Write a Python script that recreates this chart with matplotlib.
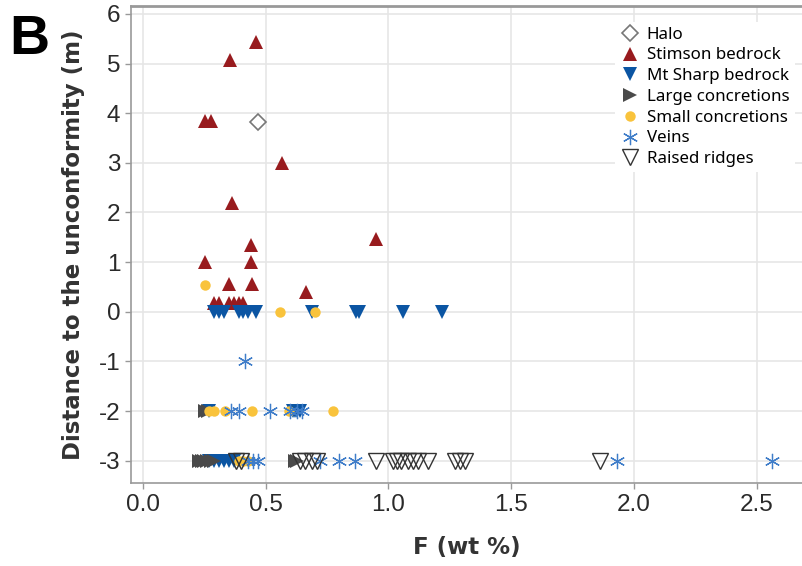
import matplotlib
matplotlib.use("Agg")
import matplotlib.pyplot as plt

plt.rcParams["axes.unicode_minus"] = False

# Datos (F en wt %, distancia en m)
halo_x = [0.47]
halo_y = [3.82]

stimson_x = [0.46, 0.355, 0.255, 0.28, 0.565, 0.365, 0.95, 0.44, 0.255, 0.44,
             0.35, 0.445, 0.665, 0.29, 0.31, 0.35, 0.37, 0.39, 0.41]
stimson_y = [5.43, 5.07, 3.85, 3.85, 3.0, 2.2, 1.46, 1.35, 1.0, 1.0,
             0.56, 0.56, 0.4, 0.18, 0.18, 0.18, 0.18, 0.18, 0.18]

mtsharp_x = [0.29, 0.31, 0.33, 0.39, 0.41, 0.43, 0.46, 0.69, 0.87, 0.88, 1.06, 1.22,
             0.27, 0.61, 0.62, 0.63, 0.64,
             0.27, 0.29, 0.31, 0.33, 0.35, 0.37]
mtsharp_y = [0, 0, 0, 0, 0, 0, 0, 0, 0, 0, 0, 0,
             -2, -2, -2, -2, -2,
             -3, -3, -3, -3, -3, -3]

large_x = [0.255, 0.265, 0.23, 0.24, 0.25, 0.26, 0.28, 0.29, 0.62, 0.63]
large_y = [-2, -2, -3, -3, -3, -3, -3, -3, -3, -3]

small_x = [0.255, 0.56, 0.70, 0.27, 0.29, 0.335, 0.445, 0.595, 0.775, 0.39, 0.41, 0.43]
small_y = [0.54, 0, 0, -2, -2, -2, -2, -2, -2, -3, -3, -3]

veins_x = [0.417, 0.36, 0.39, 0.52, 0.60, 0.63, 0.65,
           0.43, 0.45, 0.47, 0.72, 0.80, 0.865, 1.93, 2.56]
veins_y = [-1, -2, -2, -2, -2, -2, -2,
           -3, -3, -3, -3, -3, -3, -3, -3]

ridges_x = [0.38, 0.40, 0.64, 0.66, 0.69, 0.71, 0.95, 1.02, 1.035, 1.05, 1.08,
            1.10, 1.12, 1.16, 1.27, 1.29, 1.31, 1.86]
ridges_y = [-3] * len(ridges_x)

fig = plt.figure(figsize=(8.03, 5.66), dpi=100)
ax = fig.add_axes([0.1636, 0.1466, 0.8364, 0.8428])

ax.plot(halo_x, halo_y, linestyle="none", marker="D", markersize=8.5,
        markerfacecolor="white", markeredgecolor="#777777", markeredgewidth=1.2, label="Halo")
ax.plot(stimson_x, stimson_y, linestyle="none", marker="^", markersize=10.5,
        color="#981b1e", markeredgewidth=0, label="Stimson bedrock")
ax.plot(mtsharp_x, mtsharp_y, linestyle="none", marker="v", markersize=10.5,
        color="#0b55a3", markeredgewidth=0, label="Mt Sharp bedrock")
ax.plot(large_x, large_y, linestyle="none", marker=">", markersize=10,
        color="#4a4a4a", markeredgewidth=0, label="Large concretions")
ax.plot(small_x, small_y, linestyle="none", marker="o", markersize=7.5,
        color="#f9c33c", markeredgewidth=0, label="Small concretions")
ax.plot(veins_x, veins_y, linestyle="none", marker=(6, 2, 0), markersize=11,
        color="#3f7dc9", markeredgewidth=0.9, label="Veins")
ax.plot(ridges_x, ridges_y, linestyle="none", marker="v", markersize=11,
        markerfacecolor="none", markeredgecolor="#333333", markeredgewidth=1.0,
        label="Raised ridges")

ax.set_xlim(-0.046, 2.687)
ax.set_ylim(-3.45, 6.16)
ax.set_xticks([0.0, 0.5, 1.0, 1.5, 2.0, 2.5])
ax.set_xticklabels(["0.0", "0.5", "1.0", "1.5", "2.0", "2.5"])
ax.set_yticks([-3, -2, -1, 0, 1, 2, 3, 4, 5, 6])

ax.grid(True, color="#e6e6e6", linewidth=1.2)
ax.set_axisbelow(True)
for lado in ["left", "bottom", "top"]:
    ax.spines[lado].set_color("#999999")
ax.spines["left"].set_linewidth(1.2)
ax.spines["bottom"].set_linewidth(1.2)
ax.spines["top"].set_linewidth(2)
ax.spines["right"].set_visible(False)

ax.tick_params(axis="both", length=4, width=1, color="#999999", pad=4,
               labelsize=17.5, labelcolor="#2a2a2a")
for t in ax.get_xticklabels() + ax.get_yticklabels():
    t.set_fontfamily("Liberation Sans")

ax.set_xlabel("F (wt %)", fontsize=16.5, fontweight="bold", color="#333333",
              family="DejaVu Sans", labelpad=14)
ax.set_ylabel("Distance to the unconformity (m)", fontsize=16.5, fontweight="bold",
              color="#333333", family="DejaVu Sans", labelpad=10)

leg = ax.legend(loc="upper right", bbox_to_anchor=(1.0, 0.985), frameon=True,
                prop={"family": "Noto Sans", "weight": "bold", "size": 12.2},
                handletextpad=0.4, labelspacing=0.28, borderpad=0.3,
                handlelength=1.2, fancybox=False)
leg.get_frame().set_facecolor("white")
leg.get_frame().set_edgecolor("none")
leg.get_frame().set_alpha(1)

fig.text(0.012, 0.975, "B", fontsize=40, fontweight="bold", family="Liberation Sans",
         va="top", ha="left")

fig.savefig("out.png", dpi=100)
